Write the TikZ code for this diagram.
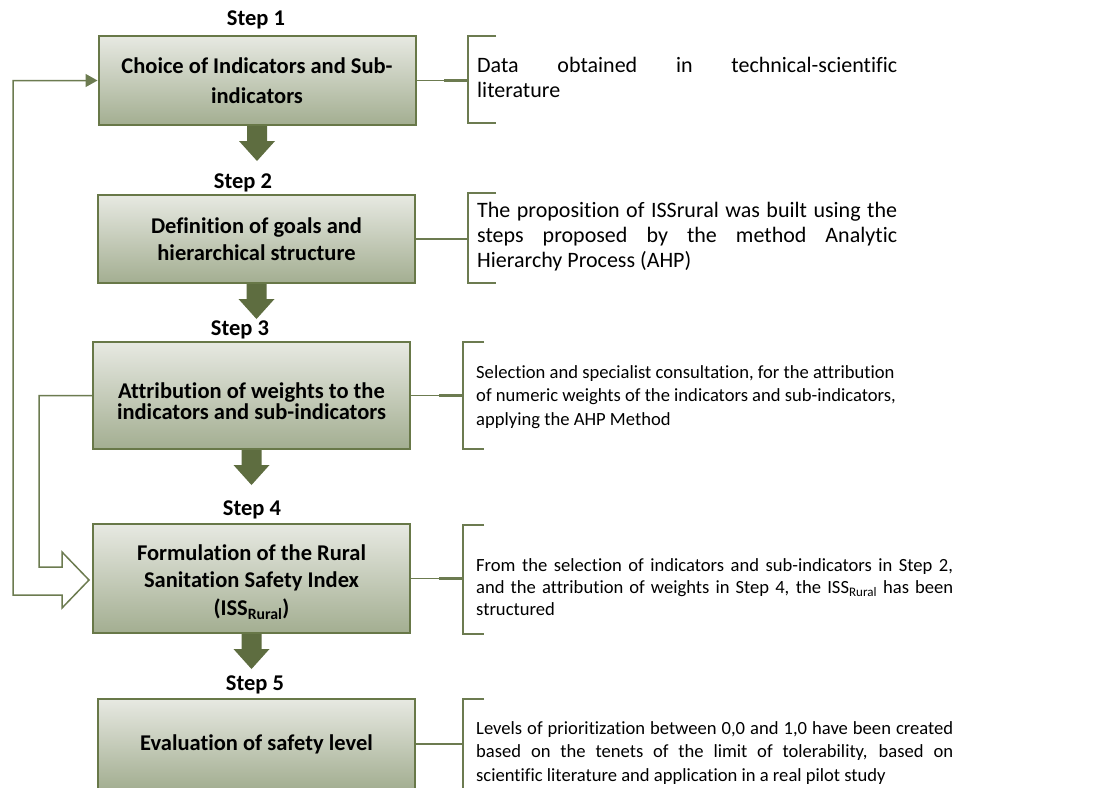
\documentclass[tikz,border=0pt]{standalone}
\usepackage{fontspec}
\setmainfont{Carlito}[Ligatures=CommonOff]
\usetikzlibrary{arrows.meta,calc}
\definecolor{topc}{RGB}{231,233,226}
\definecolor{botc}{RGB}{163,174,145}
\definecolor{bordc}{RGB}{104,120,72}
\definecolor{arrc}{RGB}{94,109,64}
\definecolor{linec}{RGB}{108,123,80}
\newcommand\bfs[1]{\bfseries\fontsize{22.5}{#1}\selectfont}
\newcommand\blockarr[1]{%
  \fill[arrc] ($(#1.south)+(-10,0)$) -- ($(#1.south)+(-10,15)$) -- ($(#1.south)+(-18,15)$)
    -- ($(#1.south)+(0,35)$) -- ($(#1.south)+(18,15)$) -- ($(#1.south)+(10,15)$)
    -- ($(#1.south)+(10,0)$) -- cycle;}
\tikzset{
  stepbox/.style={draw=bordc, line width=2pt, top color=topc, bottom color=botc,
    align=center, inner sep=0pt, minimum width=317pt, text=black},
  boxtext/.style={align=center, inner sep=0pt, text=black},
  steplabel/.style={font=\bfs{27}, inner sep=0pt},
  desc/.style={anchor=north west, inner sep=0pt, align=left, text=black},
  thinl/.style={draw=linec, line width=1.4pt},
  thickl/.style={draw=linec, line width=2.6pt},
  brk/.style={draw=linec, line width=1.8pt},
  fbline/.style={draw=linec, line width=1.5pt, line join=miter}
}
\begin{document}
\begin{tikzpicture}[x=1pt,y=-1pt]
\clip (0,0) rectangle (1094,787);
\fill[white] (0,0) rectangle (1094,787);

% boxes
\node[stepbox, minimum height=89pt, font=\bfs{30}] (b1) at (257,80.5) {Choice of Indicators and Sub-\\indicators};
\node[stepbox, minimum height=88pt, font=\bfs{27}] (b2) at (256.5,239) {Definition of goals and\\hierarchical structure};
\node[stepbox, minimum height=107pt] (b3) at (251.5,395.5) {};
\node[boxtext, font=\bfs{17.5}] (b3t) at (251.5,401) {Attribution of weights to the\\indicators and sub-indicators};
\node[stepbox, minimum height=109pt] (b4) at (251.5,578.5) {};
\node[boxtext, font=\bfs{27.5}] (b4t) at (251.5,582) {Formulation of the Rural\\Sanitation Safety Index\\(ISS\textsubscript{Rural})};
\node[stepbox, minimum height=90pt, font=\bfs{27}] (b5) at (256.5,744) {Evaluation of safety level};

% step labels
\node[steplabel] (s1) at (256,20) {Step 1};
\node[steplabel] (s2) at (243,183) {Step 2};
\node[steplabel] (s3) at (240,330) {Step 3};
\node[steplabel] (s4) at (252,510) {Step 4};
\node[steplabel] (s5) at (255,685) {Step 5};

% block arrows
\blockarr{b1}
\blockarr{b2}
\blockarr{b3}
\blockarr{b4}

% bracket end points
\coordinate (k1) at (468,80.5);
\coordinate (k2) at (468,239);
\coordinate (k3) at (463,395.5);
\coordinate (k4) at (463,578.5);
\coordinate (k5) at (463,744);

% connectors box -> bracket
\foreach \b/\k in {b1/k1,b2/k2,b3/k3,b4/k4,b5/k5}{
  \draw[thinl] (\b.east) -- (\k);
  \draw[thickl] ($(\k)+(-24,0)$) -- (\k);
}

% brackets
\draw[brk] (496,36) -- (468,36) -- (468,123) -- (496,123);
\draw[brk] (496,193) -- (468,193) -- (468,283) -- (496,283);
\draw[brk] (484,342) -- (463,342) -- (463,449) -- (484,449);
\draw[brk] (484,525) -- (463,525) -- (463,634) -- (484,634);
\draw[brk] (484,699) -- (463,699) -- (463,800);

% descriptions
\node[desc, font=\fontsize{22}{25}\selectfont] (t1) at (477,57)
  {\makebox[420pt][s]{Data obtained in technical-scientific}\\literature};
\node[desc, font=\fontsize{22}{25}\selectfont] (t2) at (477,202)
  {\makebox[420pt][s]{The proposition of ISSrural was built using the}\\
   \makebox[420pt][s]{steps proposed by the method Analytic}\\Hierarchy Process (AHP)};
\node[desc, font=\fontsize{18.6}{23.5}\selectfont] (t3) at (476,365)
  {Selection and specialist consultation, for the attribution\\
   of numeric weights of the indicators and sub-indicators,\\applying the AHP Method};
\node[desc, font=\fontsize{18.6}{22}\selectfont] (t4) at (476,558)
  {\makebox[477pt][s]{From the selection of indicators and sub-indicators in Step 2,}\\
   \makebox[477pt][s]{and the attribution of weights in Step 4, the ISS\textsubscript{Rural} has been}\\structured};
\node[desc, font=\fontsize{18.6}{23.5}\selectfont] (t5) at (476,721)
  {\makebox[477pt][s]{Levels of prioritization between 0,0 and 1,0 have been created}\\
   \makebox[477pt][s]{based on the tenets of the limit of tolerability, based on}\\
   scientific literature and application in a real pilot study};

% feedback loops
\draw[fbline, -{Triangle[length=12pt,width=13pt]}] (b3.west) -- (39,395.5) -- (39,567) -- (62,567)
  -- (62,552) -- (89,580) -- (62,608) -- (62,595) -- (13,595) -- (13,80.5) -- (b1.west);
\end{tikzpicture}
\end{document}
